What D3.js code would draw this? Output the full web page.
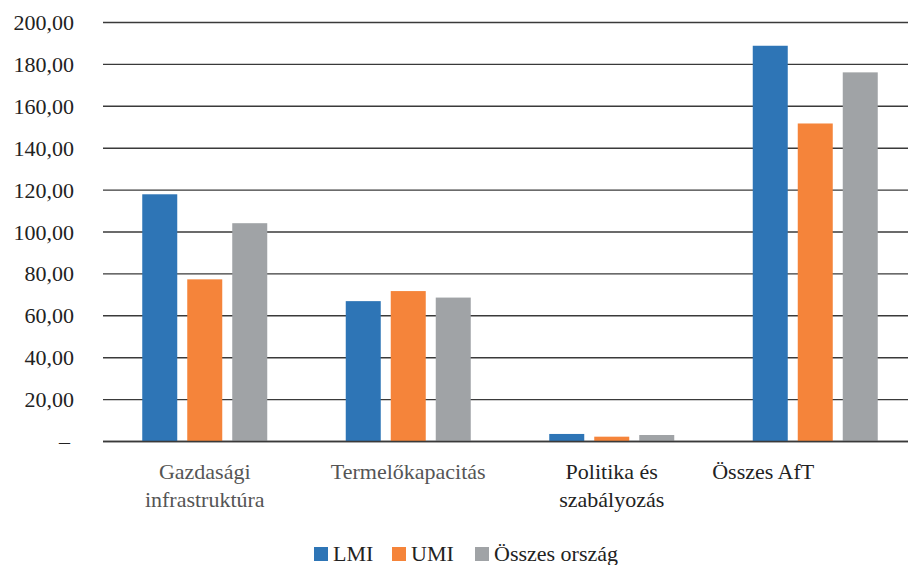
<!DOCTYPE html>
<html lang="hu">
<head>
    <meta charset="UTF-8">
    <title>AfT</title>
    <script src="https://cdn.jsdelivr.net/npm/d3@7"></script>
    <style>
        html, body {
            margin: 0;
            padding: 0;
            background: #fff;
            overflow: hidden;
        }
    </style>
</head>
<body>
</body>
<script>
    let width = 908;
    let height = 565;

    let categories = [['Gazdasági', 'infrastruktúra'], ['Termelőkapacitás'], ['Politika és', 'szabályozás'], ['Összes AfT']];
    let series = ['LMI', 'UMI', 'Összes ország'];
    let lmi = [118.0, 67.0, 3.6, 188.9];
    let umi = [77.4, 71.8, 2.3, 151.8];
    let osszes = [104.2, 68.7, 3.1, 176.2];
    let yTicks = [0, 20, 40, 60, 80, 100, 120, 140, 160, 180, 200];

    let colors = ['#2E75B6', '#F5843A', '#A0A3A6'];
    let labelColors = ['#555', '#555', '#222', '#222'];
    // the last label is pushed left in the original (band runs off the edge)
    let labelShift = [0, 0, 0, -52];

    let values = [lmi, umi, osszes];
    let data = categories.map((c, i) => ({cat: i, vals: values.map(s => s[i])}));

    let svg = d3.select('body').append('svg')
        .attr('width', width)
        .attr('height', height)
        .attr('font-family', "'Liberation Serif', 'DejaVu Serif', serif");

    let plotLeft = 103, plotRight = 917, plotTop = 22.5, plotBottom = 441.5;

    let x0 = d3.scaleBand()
        .domain(d3.range(categories.length))
        .range([plotLeft, plotRight]);

    let x1 = d3.scaleBand()
        .domain(d3.range(series.length))
        .range([0, 125])
        .paddingInner(10 / 45);

    let y = d3.scaleLinear()
        .domain([0, 200])
        .range([plotBottom, plotTop]);

    let fmt = v => v === 0 ? '–' : d3.format('.2f')(v).replace('.', ',');

    // grid lines
    svg.append('g')
        .selectAll('line')
        .data(yTicks)
        .enter().append('line')
        .attr('x1', plotLeft)
        .attr('x2', width)
        .attr('y1', d => y(d))
        .attr('y2', d => y(d))
        .attr('stroke', '#3a3a3a')
        .attr('stroke-width', 1.4);

    // y labels
    svg.append('g')
        .selectAll('text')
        .data(yTicks)
        .enter().append('text')
        .attr('x', d => d === 0 ? 70 : 74)
        .attr('y', d => y(d) + 7.5)
        .attr('text-anchor', 'end')
        .attr('font-size', 22)
        .attr('fill', '#222')
        .text(fmt);

    // bars
    let groups = svg.append('g')
        .selectAll('g')
        .data(data)
        .enter().append('g')
        .attr('transform', d => `translate(${x0(d.cat) + x0.bandwidth() / 2 - 62.5},0)`);

    groups.selectAll('rect')
        .data(d => d.vals)
        .enter().append('rect')
        .attr('x', (d, i) => x1(i))
        .attr('width', x1.bandwidth())
        .attr('y', d => y(d))
        .attr('height', d => plotBottom - y(d))
        .attr('fill', (d, i) => colors[i]);

    // redraw baseline on top
    svg.append('line')
        .attr('x1', plotLeft)
        .attr('x2', width)
        .attr('y1', plotBottom)
        .attr('y2', plotBottom)
        .attr('stroke', '#3a3a3a')
        .attr('stroke-width', 1.6);

    // category labels
    let catLabels = svg.append('g')
        .selectAll('text')
        .data(categories)
        .enter().append('text')
        .attr('text-anchor', 'middle')
        .attr('font-size', 22)
        .attr('fill', (d, i) => labelColors[i])
        .attr('transform', (d, i) => `translate(${x0(i) + x0.bandwidth() / 2 + labelShift[i]}, 479)`);

    catLabels.selectAll('tspan')
        .data(d => d)
        .enter().append('tspan')
        .attr('x', 0)
        .attr('dy', (d, i) => i === 0 ? 0 : 28)
        .text(d => d);

    // legend
    let legendX = [314, 392, 475];
    let legend = svg.append('g')
        .selectAll('g')
        .data(series)
        .enter().append('g')
        .attr('transform', (d, i) => `translate(${legendX[i]}, 547)`);

    legend.append('rect')
        .attr('width', 14)
        .attr('height', 14)
        .attr('fill', (d, i) => colors[i]);

    legend.append('text')
        .attr('x', 19)
        .attr('y', 14)
        .attr('font-size', 22)
        .attr('fill', '#222')
        .text(d => d);
</script>
</html>
